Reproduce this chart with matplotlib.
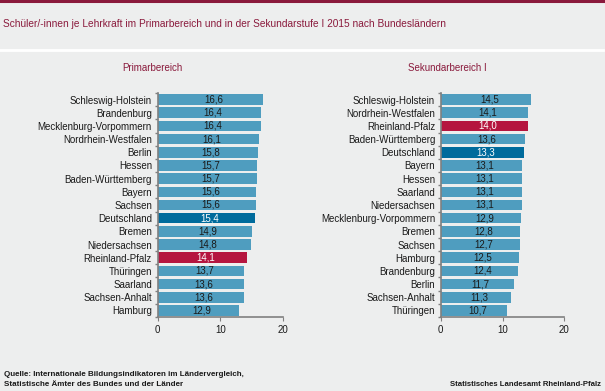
import matplotlib.pyplot as plt
import numpy as np

plt.rcParams["font.family"] = ["Liberation Sans", "DejaVu Sans"]

# data
primar_laender = ["Schleswig-Holstein", "Brandenburg", "Mecklenburg-Vorpommern",
                  "Nordrhein-Westfalen", "Berlin", "Hessen", "Baden-Württemberg",
                  "Bayern", "Sachsen", "Deutschland", "Bremen", "Niedersachsen",
                  "Rheinland-Pfalz", "Thüringen", "Saarland", "Sachsen-Anhalt", "Hamburg"]
primar_werte = [16.6, 16.4, 16.4, 16.1, 15.8, 15.7, 15.7, 15.6, 15.6, 15.4,
                14.9, 14.8, 14.1, 13.7, 13.6, 13.6, 12.9]

sek_laender = ["Schleswig-Holstein", "Nordrhein-Westfalen", "Rheinland-Pfalz",
               "Baden-Württemberg", "Deutschland", "Bayern", "Hessen", "Saarland",
               "Niedersachsen", "Mecklenburg-Vorpommern", "Bremen", "Sachsen",
               "Hamburg", "Brandenburg", "Berlin", "Sachsen-Anhalt", "Thüringen"]
sek_werte = [14.5, 14.1, 14.0, 13.6, 13.3, 13.1, 13.1, 13.1, 13.1, 12.9,
             12.8, 12.7, 12.5, 12.4, 11.7, 11.3, 10.7]

bg = "#edeeee"
dunkelrot = "#8a1a3c"
blau = "#4f9dbf"
blau_de = "#006b9c"
rot_rlp = "#b5153f"
achse = "#808080"

fig = plt.figure(figsize=(6.05, 3.91), dpi=100, facecolor=bg)

# header decoration
fig.add_artist(plt.Line2D([0, 1], [1 - 1 / 391, 1 - 1 / 391], color=dunkelrot, lw=2.2))
fig.add_artist(plt.Line2D([0, 0.996], [1 - 50 / 391, 1 - 50 / 391], color="white", lw=2))
fig.text(3 / 605, 1 - 24 / 391, "Schüler/-innen je Lehrkraft im Primarbereich und in der Sekundarstufe I 2015 nach Bundesländern",
         color=dunkelrot, fontsize=7.3, va="center", ha="left")


def panel(rect, laender, werte, titel, titel_x):
    ax = fig.add_axes(rect)
    ax.set_facecolor(bg)
    y = np.arange(len(laender))
    farben = []
    for land in laender:
        if land == "Deutschland":
            farben.append(blau_de)
        elif land == "Rheinland-Pfalz":
            farben.append(rot_rlp)
        else:
            farben.append(blau)
    ax.barh(y, werte, height=0.8, color=farben, left=0.1)
    for yi, w, f in zip(y, werte, farben):
        tc = "white" if f != blau else "#1a1a1a"
        ax.text(w / 2 + 0.6, yi, f"{w:.1f}".replace(".", ","), ha="center", va="center",
                fontsize=7, color=tc)
    ax.set_xlim(0, 20)
    ax.set_ylim(len(laender) - 0.5, -0.5)
    ax.set_xticks([0, 10, 20])
    ax.set_yticks(y)
    ax.set_yticklabels(laender, fontsize=7, color="#1a1a1a")
    ax.tick_params(axis="y", length=0, pad=4)
    ax.set_yticks(np.arange(len(laender) + 1) - 0.5, minor=True)
    ax.tick_params(axis="y", which="minor", length=2.5, color=achse, width=1)
    ax.tick_params(axis="x", length=3, color=achse, labelsize=7, labelcolor="#1a1a1a", pad=3)
    for s in ["top", "right"]:
        ax.spines[s].set_visible(False)
    for s in ["left", "bottom"]:
        ax.spines[s].set_color(achse)
        ax.spines[s].set_linewidth(1.2)
    fig.text(titel_x, 1 - 68 / 391, titel, color=dunkelrot, fontsize=7, ha="center", va="center")
    return ax


panel([157.5 / 605, 1 - 317 / 391, 125.8 / 605, 224 / 391], primar_laender, primar_werte,
      "Primarbereich", 152 / 605)
panel([440.7 / 605, 1 - 317 / 391, 123.6 / 605, 224 / 391], sek_laender, sek_werte,
      "Sekundarbereich I", 447 / 605)

fig.text(4 / 605, 1 - 374 / 391, "Quelle: Internationale Bildungsindikatoren im Ländervergleich,",
         fontsize=5.8, fontweight="bold", color="#1a1a1a", va="center")
fig.text(4 / 605, 1 - 385 / 391, "Statistische Ämter des Bundes und der Länder",
         fontsize=5.8, fontweight="bold", color="#1a1a1a", va="center")
fig.text(601 / 605, 1 - 385 / 391, "Statistisches Landesamt Rheinland-Pfalz",
         fontsize=5.6, fontweight="bold", color="#1a1a1a", va="center", ha="right")

plt.savefig("out.png", dpi=100, facecolor=bg)
